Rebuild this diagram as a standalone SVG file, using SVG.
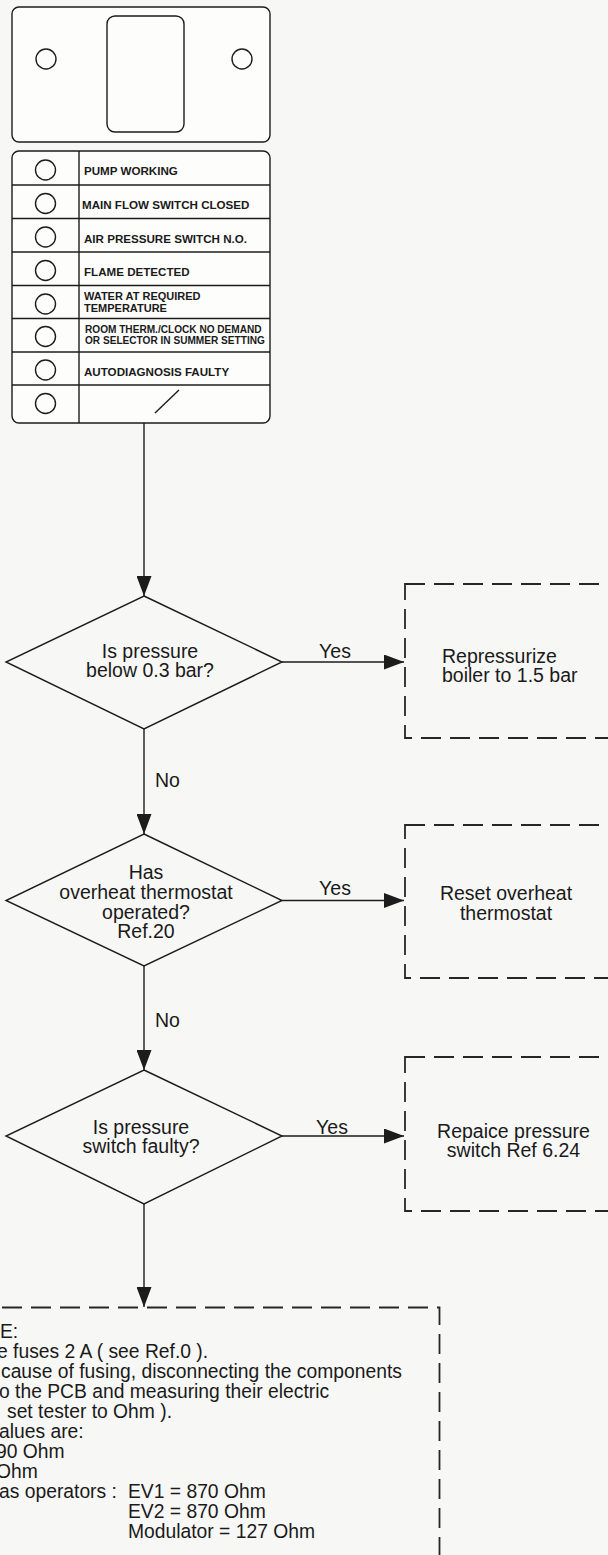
<svg xmlns="http://www.w3.org/2000/svg" width="608" height="1555" viewBox="0 0 608 1555">
<style>
.ln{stroke:#1c1c1c;stroke-width:1.4;fill:none}
.pn{stroke:#1c1c1c;stroke-width:1.4;fill:#fdfdfc}
.dash{stroke:#262626;stroke-width:1.8;fill:none;stroke-dasharray:20 9}
.t{font-family:"Liberation Sans",Arial,Helvetica,sans-serif;font-size:19.5px;fill:#1a1a1a}
.c{text-anchor:middle}
.tb{font-family:"Liberation Sans",Arial,Helvetica,sans-serif;font-weight:bold;font-size:11.6px;fill:#1a1a1a}
.n{font-family:"Liberation Sans",Arial,Helvetica,sans-serif;font-size:19.3px;fill:#1a1a1a}
</style>
<defs>
<marker id="ah" viewBox="0 0 20 15" refX="20" refY="7.5" markerWidth="20" markerHeight="15" markerUnits="userSpaceOnUse" orient="auto">
<path d="M0,0 L20,7.5 L0,15 Z" fill="#1c1c1c"/>
</marker>
</defs>
<rect x="0" y="0" width="608" height="1555" fill="#f7f7f5"/>

<g id="display-panel">
<rect class="pn" x="12" y="7" width="258" height="135" rx="7"/>
<rect class="ln" x="107" y="16" width="77" height="116" rx="8"/>
<circle class="ln" cx="46" cy="59" r="10"/>
<circle class="ln" cx="242" cy="59" r="10"/>
</g>

<g id="led-table">
<rect class="pn" x="12" y="151" width="258" height="272" rx="7"/>
<line class="ln" x1="79" y1="151" x2="79" y2="423"/>
<line class="ln" x1="12" y1="185" x2="270" y2="185"/>
<line class="ln" x1="12" y1="218.5" x2="270" y2="218.5"/>
<line class="ln" x1="12" y1="252" x2="270" y2="252"/>
<line class="ln" x1="12" y1="285.5" x2="270" y2="285.5"/>
<line class="ln" x1="12" y1="318.5" x2="270" y2="318.5"/>
<line class="ln" x1="12" y1="352" x2="270" y2="352"/>
<line class="ln" x1="12" y1="385" x2="270" y2="385"/>
<circle class="ln" cx="45.5" cy="170" r="10"/>
<circle class="ln" cx="45.5" cy="203.5" r="10"/>
<circle class="ln" cx="45.5" cy="237" r="10"/>
<circle class="ln" cx="45.5" cy="270.5" r="10"/>
<circle class="ln" cx="45.5" cy="304" r="10"/>
<circle class="ln" cx="45.5" cy="336.5" r="10"/>
<circle class="ln" cx="45.5" cy="370" r="10"/>
<circle class="ln" cx="45.5" cy="403.5" r="10"/>
<text class="tb" x="84" y="175">PUMP WORKING</text>
<text class="tb" x="82" y="208.5">MAIN FLOW SWITCH CLOSED</text>
<text class="tb" x="84" y="242.5">AIR PRESSURE SWITCH N.O.</text>
<text class="tb" x="84" y="275.5">FLAME DETECTED</text>
<text class="tb" x="84" y="299.5" style="font-size:11px">WATER AT REQUIRED</text>
<text class="tb" x="84" y="311.5" style="font-size:11px">TEMPERATURE</text>
<text class="tb" x="85" y="333" style="font-size:10.1px">ROOM THERM./CLOCK NO DEMAND</text>
<text class="tb" x="85" y="343.5" style="font-size:10.1px">OR SELECTOR IN SUMMER SETTING</text>
<text class="tb" x="84" y="375.5">AUTODIAGNOSIS FAULTY</text>
<line class="ln" x1="155" y1="413" x2="179" y2="390"/>
</g>

<g id="connectors">
<line class="ln" x1="144" y1="423" x2="144" y2="596" marker-end="url(#ah)"/>
<line class="ln" x1="282" y1="662" x2="404" y2="662" marker-end="url(#ah)"/>
<text class="t c" x="335" y="658">Yes</text>
<line class="ln" x1="144" y1="729" x2="144" y2="834" marker-end="url(#ah)"/>
<text class="t" x="155" y="787">No</text>
<line class="ln" x1="282" y1="900.5" x2="404" y2="900.5" marker-end="url(#ah)"/>
<text class="t c" x="335" y="894.5">Yes</text>
<line class="ln" x1="144" y1="966" x2="144" y2="1070" marker-end="url(#ah)"/>
<text class="t" x="155" y="1027">No</text>
<line class="ln" x1="282" y1="1136" x2="404" y2="1136" marker-end="url(#ah)"/>
<text class="t c" x="332" y="1133.5">Yes</text>
<line class="ln" x1="144" y1="1204" x2="144" y2="1307" marker-end="url(#ah)"/>
</g>

<g id="q-pressure">
<polygon class="ln" points="144,596 282,662 144,729 6,662"/>
<text class="t c" x="150" y="658">Is pressure</text>
<text class="t c" x="150" y="677">below 0.3 bar?</text>
</g>

<g id="a-repressurize">
<rect class="dash" x="405" y="584" width="260" height="154"/>
<text class="t" x="442" y="663">Repressurize</text>
<text class="t" x="442" y="682">boiler to 1.5 bar</text>
</g>

<g id="q-overheat">
<polygon class="ln" points="144,834 282,900.5 144,966 6,900.5"/>
<text class="t c" x="146" y="879">Has</text>
<text class="t c" x="146" y="898.5">overheat thermostat</text>
<text class="t c" x="146" y="918.5">operated?</text>
<text class="t c" x="146" y="938">Ref.20</text>
</g>

<g id="a-reset">
<rect class="dash" x="405" y="825" width="260" height="153"/>
<text class="t c" x="506" y="900">Reset overheat</text>
<text class="t c" x="506" y="919.5">thermostat</text>
</g>

<g id="q-switch">
<polygon class="ln" points="144,1070 282,1136 144,1204 6,1136"/>
<text class="t c" x="141" y="1134">Is pressure</text>
<text class="t c" x="141" y="1153">switch faulty?</text>
</g>

<g id="a-replace">
<rect class="dash" x="405" y="1057" width="260" height="154"/>
<text class="t c" x="513.5" y="1138">Repaice pressure</text>
<text class="t c" x="513.5" y="1157">switch Ref 6.24</text>
</g>

<g id="note">
<rect class="dash" x="-56" y="1307.5" width="495.5" height="300"/>
<text class="n" x="0" y="1338">E:</text>
<text class="n" x="-3" y="1358">e fuses 2 A ( see Ref.0 ).</text>
<text class="n" x="1" y="1378">cause of fusing, disconnecting the components</text>
<text class="n" x="-1" y="1398">o the PCB and measuring their electric</text>
<text class="n" x="7" y="1418">set tester to Ohm ).</text>
<text class="n" x="-1" y="1438">alues are:</text>
<text class="n" x="-4" y="1458">90 Ohm</text>
<text class="n" x="-4" y="1477.5">Ohm</text>
<text class="n" x="-1" y="1497.5">as operators :</text>
<text class="n" x="128" y="1497.5">EV1 = 870 Ohm</text>
<text class="n" x="128" y="1517.5">EV2 = 870 Ohm</text>
<text class="n" x="128" y="1537.5">Modulator = 127 Ohm</text>
</g>
</svg>
